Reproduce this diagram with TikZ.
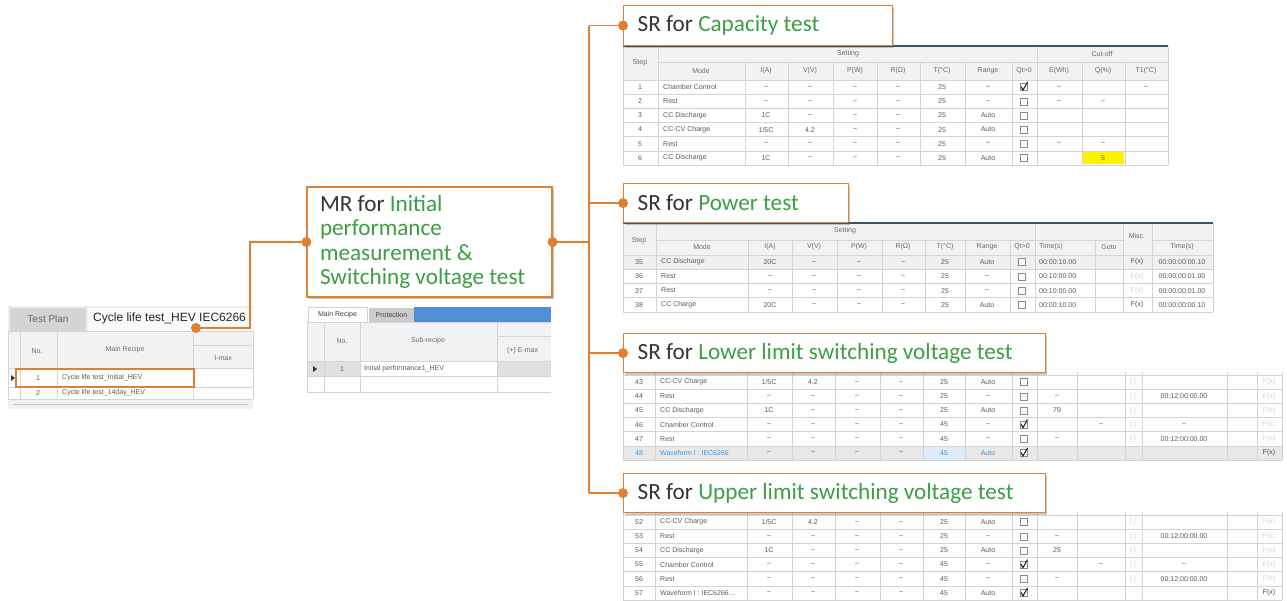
\documentclass[tikz,border=0pt]{standalone}
\usepackage{fontspec}
\setmainfont{Liberation Sans}
\newfontfamily\calfont{Carlito}
\usetikzlibrary{shadows}
\definecolor{orng}{HTML}{E07F32}
\definecolor{orbd}{HTML}{D9823A}
\definecolor{grn}{HTML}{3E9E45}
\definecolor{dk}{HTML}{333333}
\definecolor{tg}{HTML}{5C5C5C}
\definecolor{hg}{HTML}{6A6A6A}
\definecolor{gridc}{HTML}{D4D4D4}
\definecolor{hbg}{HTML}{F1F2F3}
\definecolor{faint}{HTML}{D2D2D2}
\definecolor{bluet}{HTML}{3A9AE0}
\definecolor{barblue}{HTML}{4F8FD6}
\definecolor{topln}{HTML}{3B5570}
\tikzset{
  callout/.style={draw=orbd, line width=1.2pt, fill=white,
    drop shadow={shadow xshift=1.5pt,shadow yshift=-2.5pt,opacity=0.3,fill=black!70},
    font=\calfont\fontsize{23.2}{24.5}\selectfont, text=dk, align=flush left, inner xsep=0pt, inner ysep=0pt},
  tt/.style={font=\fontsize{7}{8}\selectfont, text=tg, inner sep=0pt},
  th/.style={font=\fontsize{7}{8}\selectfont, text=hg, inner sep=0pt},
  conn/.style={draw=orng, line width=1.6pt},
  odot/.style={circle, fill=orng, minimum size=10pt, inner sep=0pt},
  gridl/.style={draw=gridc, line width=0.5pt},
  cbx/.style={draw=black!45, fill=white, minimum size=7pt, inner sep=0pt, line width=0.5pt},
}
\newcommand{\tx}[4]{\node[tt] (#1) at (#2,#3) {#4};}
\newcommand{\txl}[4]{\node[tt,anchor=west] (#1) at (#2,#3) {#4};}
\newcommand{\ckb}[4]{\node[cbx] (#1) at (#2,#3) {};
  \ifnum#4=1 \draw[black!85, line width=1.1pt] (#2-3,#3-0.5) -- (#2-1,#3+3) -- (#2+3.5,#3-5);\fi}
% lower tables (limit tests)
\newcommand{\lowtable}[4]{% prefix, top, highlighted row, rows
  \ifnum#3>0 \fill[black!9] (623,#2+#3*14.17-14.17) rectangle (1282,#2+#3*14.17);
    \fill[bluet!18] (923,#2+#3*14.17-14.17) rectangle (965,#2+#3*14.17);\fi
  \foreach \xb in {623,655,747,792,835,880,923,965,1012,1037,1077,1125,1142,1227,1257,1282}
    \draw[gridl] (\xb,#2-3) -- (\xb,#2+85);
  \foreach \k in {0,...,6} \draw[gridl] (623,#2+\k*14.17) -- (1282,#2+\k*14.17);
  \foreach \s/\m/\ia/\vv/\tcv/\rg/\q/\e/\xx/\tm/\fx/\st [count=\rr] in {#4}{
    \pgfmathsetmacro\yy{#2+(\rr-0.5)*14.17}
    \ifnum\st=1 \def\rowc{bluet}\else\def\rowc{tg}\fi
    \node[tt,text=\rowc] (#1-\rr-s) at (639,\yy) {\s};
    \node[tt,text=\rowc,anchor=west] (#1-\rr-m) at (660,\yy) {\m};
    \tx{#1-\rr-i}{769}{\yy}{\ia}
    \tx{#1-\rr-v}{813}{\yy}{\vv}
    \tx{#1-\rr-p}{857}{\yy}{–}
    \tx{#1-\rr-r}{901}{\yy}{–}
    \node[tt,text=\rowc] (#1-\rr-t) at (944,\yy) {\tcv};
    \node[tt,text=\rowc] (#1-\rr-g) at (988,\yy) {\rg};
    \ckb{#1-\rr-q}{1024}{\yy}{\q}
    \tx{#1-\rr-e}{1057}{\yy}{\e}
    \tx{#1-\rr-x}{1101}{\yy}{\xx}
    \tx{#1-\rr-tm}{1184}{\yy}{\tm}
    \ifnum\fx=1 \node[tt,text=black!70] (#1-\rr-f) at (1269,\yy) {F(x)};
    \else \node[tt,text=faint] (#1-\rr-f) at (1269,\yy) {F(x)};
          \node[tt,text=faint] (#1-\rr-d) at (1133,\yy) {[ ]};\fi
  }
}
\begin{document}
\begin{tikzpicture}[x=1pt,y=-1pt]
\useasboundingbox (0,0) rectangle (1287,601);
\fill[white] (0,0) rectangle (1287,601);

% ================= Left table (Test plan)
\fill[black!7] (8,306) rectangle (254,331);
\fill[black!17] (10,308) rectangle (86,331);
\fill[black!2] (88,308) rectangle (254,331);
\node[font=\fontsize{10}{12}\selectfont, text=black!60, inner sep=0pt] (tplan) at (48,319) {Test Plan};
\node[anchor=west, font=\fontsize{12}{14}\selectfont, text=black!85, inner sep=0pt] (title) at (93,318) {Cycle life test\_HEV IEC6266};
\fill[hbg] (8,331) rectangle (253,368);
\foreach \yv in {331,368,387,399} \draw[gridl] (8,\yv) -- (253,\yv);
\draw[gridl] (193,345) -- (253,345);
\foreach \xv in {8,20,57,193,253} \draw[gridl] (\xv,331) -- (\xv,399);
\node[th] (lno) at (37,351) {No.};
\node[th] (lmr) at (125,350) {Main Recipe};
\node[th] (lim) at (223,358) {I-max};
\fill[black!80] (11,375) -- (15,378) -- (11,381) -- cycle;
\tx{l1n}{38}{378}{1}
\txl{l1t}{62}{378}{Cycle life test\_Initial\_HEV}
\tx{l2n}{38}{393}{2}
\txl{l2t}{62}{393}{Cycle life test\_14day\_HEV}
\node[draw=orbd, line width=2pt, minimum width=178pt, minimum height=18pt, inner sep=0pt] (hl) at (105,378) {};
\fill[black!6] (8,400) rectangle (253,409);
\draw[black!25, line width=0.6pt] (14,404.5) -- (248,404.5);

% ================= MR table
\draw[gridl, fill=white] (308,307) rectangle (367,322);
\node[tt, text=black!75] (mrtab) at (337.5,314.5) {Main Recipe};
\fill[black!20] (369,308) rectangle (414,322);
\node[tt, text=black!75] (prtab) at (391.5,315) {Protection};
\fill[barblue] (414,307) rectangle (551,322);
\fill[hbg] (307,322) rectangle (551,361);
\fill[black!12] (307,361) rectangle (551,376);
\fill[white] (361,362) rectangle (497,376);
\foreach \yv in {322,361,376,392} \draw[gridl] (307,\yv) -- (551,\yv);
\draw[gridl] (497,336) -- (551,336);
\foreach \xv in {307,324,360,497} \draw[gridl] (\xv,322) -- (\xv,392);
\node[th] (mno) at (342,341) {No.};
\node[th] (msr) at (428,341) {Sub-recipe};
\node[th, anchor=west] (mem) at (507,351) {(+) E-max};
\fill[black!80] (313,366) -- (317,369) -- (313,372) -- cycle;
\tx{m1n}{342}{369}{1}
\txl{m1t}{364}{369}{Initial performance1\_HEV}

% ================= Table 1 (Capacity)
\fill[hbg] (623,47) rectangle (1168,80);
\draw[topln, line width=1.6pt] (623,46) -- (1168,46);
\fill[yellow] (1083,151.5) rectangle (1124,164.5);
\draw[gridl] (658,62) -- (1168,62);
\foreach \k in {0,...,6} \draw[gridl] (623,80+\k*14.17) -- (1168,80+\k*14.17);
\foreach \xb in {623,658,1037,1168} \draw[gridl] (\xb,47) -- (\xb,165);
\foreach \xb in {745,788,833,877,920,965,1012,1082,1125} \draw[gridl] (\xb,62) -- (\xb,165);
\node[th] (a-step) at (640,63) {Step};
\node[th] (a-set) at (848,54) {Setting};
\node[th] (a-cut) at (1102,54) {Cut-off};
\foreach \xc/\lab [count=\k] in {701/Mode,766/I(A),810/V(V),855/P(W),898/R(Ω),942/T(°C),988/Range,1024/Qt>0,1059/E(Wh),1103/Q(\%),1146/T1(°C)}
  \node[th] (a-h\k) at (\xc,71) {\lab};
\foreach \s/\m/\ia/\vv/\rg/\q/\e/\qq/\tf [count=\rr] in {
  1/Chamber Control/–/–/–/1/–/{}/–,
  2/Rest/–/–/–/0/–/–/{},
  3/CC Discharge/1C/–/Auto/0/{}/{}/{},
  4/CC-CV Charge/{1/5C}/4.2/Auto/0/{}/{}/{},
  5/Rest/–/–/–/0/–/–/{},
  6/CC Discharge/1C/–/Auto/0/{}/5/{}}{
  \pgfmathsetmacro\yy{80+(\rr-0.5)*14.17}
  \tx{a\rr-s}{640}{\yy}{\s}
  \txl{a\rr-m}{663}{\yy}{\m}
  \tx{a\rr-i}{766}{\yy}{\ia}
  \tx{a\rr-v}{810}{\yy}{\vv}
  \tx{a\rr-p}{855}{\yy}{–}
  \tx{a\rr-r}{898}{\yy}{–}
  \tx{a\rr-t}{942}{\yy}{25}
  \tx{a\rr-g}{988}{\yy}{\rg}
  \ckb{a\rr-q}{1024}{\yy}{\q}
  \tx{a\rr-e}{1059}{\yy}{\e}
  \tx{a\rr-qq}{1103}{\yy}{\qq}
  \tx{a\rr-tf}{1146}{\yy}{\tf}
}

% ================= Table 2 (Power)
\fill[hbg] (623,224) rectangle (1213,255);
\fill[black!6] (623,255) rectangle (1213,269.25);
\draw[topln, line width=1.6pt] (623,223) -- (1213,223);
\draw[gridl] (656,240) -- (1123,240);
\draw[gridl] (1152,240) -- (1213,240);
\foreach \k in {0,...,4} \draw[gridl] (623,255+\k*14.25) -- (1213,255+\k*14.25);
\foreach \xb in {623,656,1035,1123,1152,1213} \draw[gridl] (\xb,224) -- (\xb,312);
\foreach \xb in {748,792,837,882,925,965,1010,1095} \draw[gridl] (\xb,240) -- (\xb,312);
\node[th] (b-step) at (639,241) {Step};
\node[th] (b-set) at (845,231) {Setting};
\node[th] (b-misc) at (1137,236) {Misc.};
\foreach \xc/\lab [count=\k] in {702/Mode,770/I(A),814/V(V),859/P(W),903/R(Ω),945/T(°C),987/Range,1022/Qt>0,1109/Goto,1182/Time(s)}
  \node[th] (b-h\k) at (\xc,247) {\lab};
\node[th, anchor=west] (b-ht) at (1039,247) {Time(s)};
\foreach \s/\m/\ia/\rg/\ta/\fx/\tb [count=\rr] in {
  35/CC Discharge/20C/Auto/00:00:10.00/1/00:00:00:00.10,
  36/Rest/–/–/00:10:00.00/0/00:00:00:01.00,
  37/Rest/–/–/00:10:00.00/0/00:00:00:01.00,
  38/CC Charge/20C/Auto/00:00:10.00/1/00:00:00:00.10}{
  \pgfmathsetmacro\yy{255+(\rr-0.5)*14.25}
  \tx{b\rr-s}{639}{\yy}{\s}
  \txl{b\rr-m}{661}{\yy}{\m}
  \tx{b\rr-i}{770}{\yy}{\ia}
  \tx{b\rr-v}{814}{\yy}{–}
  \tx{b\rr-p}{859}{\yy}{–}
  \tx{b\rr-r}{903}{\yy}{–}
  \tx{b\rr-t}{945}{\yy}{25}
  \tx{b\rr-g}{987}{\yy}{\rg}
  \ckb{b\rr-q}{1022}{\yy}{0}
  \txl{b\rr-ta}{1039}{\yy}{\ta}
  \ifnum\fx=1 \node[tt,text=black!70] (b\rr-f) at (1137,\yy) {F(x)};
  \else \node[tt,text=faint] (b\rr-f) at (1137,\yy) {F(x)};\fi
  \tx{b\rr-tb}{1182}{\yy}{\tb}
}

% ================= Table 3 (Lower limit)
\lowtable{c}{375}{6}{
  43/CC-CV Charge/{1/5C}/4.2/25/Auto/0/{}/{}/{}/0/0,
  44/Rest/–/–/25/–/0/–/{}/00:12:00:00.00/0/0,
  45/CC Discharge/1C/–/25/Auto/0/79/{}/{}/0/0,
  46/Chamber Control/–/–/45/–/1/{}/–/–/0/0,
  47/Rest/–/–/45/–/0/–/{}/00:12:00:00.00/0/0,
  48/Waveform I : IEC6266/–/–/45/Auto/1/{}/{}/{}/1/1}

% ================= Table 4 (Upper limit)
\lowtable{d}{515}{0}{
  52/CC-CV Charge/{1/5C}/4.2/25/Auto/0/{}/{}/{}/0/0,
  53/Rest/–/–/25/–/0/–/{}/00:12:00:00.00/0/0,
  54/CC Discharge/1C/–/25/Auto/0/25/{}/{}/0/0,
  55/Chamber Control/–/–/45/–/1/{}/–/–/0/0,
  56/Rest/–/–/45/–/0/–/{}/00:12:00:00.00/0/0,
  57/{Waveform I : IEC6266…}/–/–/45/Auto/1/{}/{}/{}/1/0}

% ================= Callouts
\node[callout, minimum width=245pt, minimum height=110pt, text width=219pt] (mr) at (429.5,242)
  {MR for \textcolor{grn}{Initial}\\\textcolor{grn}{performance}\\\textcolor{grn}{measurement \&}\\\textcolor{grn}{Switching voltage test}};
\node[callout, anchor=north west, minimum width=269pt, minimum height=40pt, text width=241pt] (sr1) at (623,5)
  {SR for \textcolor{grn}{Capacity test}};
\node[callout, anchor=north west, minimum width=225pt, minimum height=39pt, text width=197pt] (sr2) at (623,183)
  {SR for \textcolor{grn}{Power test}};
\node[callout, anchor=north west, minimum width=422pt, minimum height=39pt, text width=394pt] (sr3) at (623,333)
  {SR for \textcolor{grn}{Lower limit switching voltage test}};
\node[callout, anchor=north west, minimum width=422pt, minimum height=39pt, text width=394pt] (sr4) at (623,473)
  {SR for \textcolor{grn}{Upper limit switching voltage test}};

% ================= Connectors
\coordinate (bus) at (589,0);
\coordinate (hev) at (196,328);
\coordinate (bend) at (250,328);
\draw[conn] (hev) -- (bend) |- (mr.west);
\draw[conn] (mr.east) -- (mr.east -| bus);
\draw[conn] (sr1.west -| bus) -- (sr4.west -| bus);
\foreach \n in {sr1,sr2,sr3,sr4} \draw[conn] (\n.west -| bus) -- (\n.west);
\node[odot] (dh) at (hev) {};
\node[odot] (dml) at (mr.west) {};
\node[odot] (dmr) at (mr.east) {};
\foreach \n in {sr1,sr2,sr3,sr4} \node[odot] (d\n) at (\n.west) {};
\end{tikzpicture}
\end{document}
